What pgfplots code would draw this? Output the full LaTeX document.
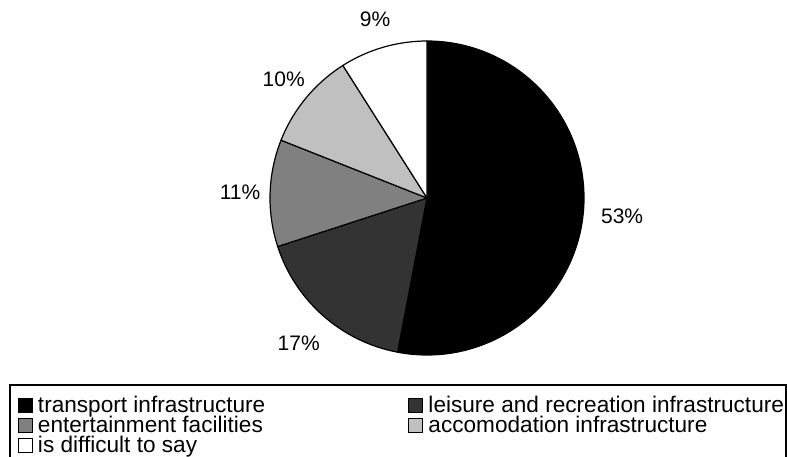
\documentclass[border=0pt]{standalone}
\usepackage{fontspec}
\setmainfont{Liberation Sans}
\usepackage{pgfplots}
\pgfplotsset{compat=1.18}

\definecolor{leisure}{HTML}{333333}
\definecolor{entert}{HTML}{808080}
\definecolor{accom}{HTML}{C0C0C0}

% pie centre (427,258), radius 157 -- one axis unit is one point
% \slice{start in %}{share in %}{colour}
\newcommand{\slice}[3]{%
  \filldraw[fill=#3, draw=black, line width=1.2pt, line join=round]
    (axis cs:427,258) -- ++({90-3.6*#1}:157pt)
    arc[start angle={90-3.6*#1}, end angle={90-3.6*(#1+#2)}, radius=157pt] -- cycle;}
% \slicelabel{start}{share}{distance from centre}
\newcommand{\slicelabel}[3]{%
  \path (axis cs:427,258) ++({90-3.6*(#1+#2/2)}:#3pt)
    node[inner sep=0pt] {\fontsize{21}{25}\selectfont #2\%};}

\pgfplotsset{sq/.style={legend image code/.code={%
  \draw[line width=1pt, fill=#1] (0pt,-7pt) rectangle (14pt,7pt);}}}

\begin{document}
\begin{tikzpicture}
\path[use as bounding box] (0,0) rectangle (787pt,456pt);
\begin{axis}[
    hide axis, scale only axis,
    width=787pt, height=456pt,
    xmin=0, xmax=787, ymin=0, ymax=456,
    clip=false,
    legend columns=2,
    legend cell align=left,
    legend style={draw=none, fill=none, inner sep=0pt, outer sep=0pt,
      at={(axis cs:17.5,61)}, anchor=north west, row sep=0pt,
      font=\fontsize{22.6}{24}\selectfont,
      nodes={inner sep=0pt, text height=17pt, text depth=3pt},
      /tikz/every odd column/.append style={column sep=5.5pt}},
  ]
  \slice{0}{53}{black}
  \slice{53}{17}{leisure}
  \slice{70}{11}{entert}
  \slice{81}{10}{accom}
  \slice{91}{9}{white}
  \slicelabel{0}{53}{196}
  \slicelabel{53}{17}{194}
  \slicelabel{70}{11}{187}
  \slicelabel{81}{10}{186}
  \slicelabel{91}{9}{186}

  \addlegendimage{sq=black}
  \addlegendentry{\makebox[370pt][l]{transport infrastructure}}
  \addlegendimage{sq=leisure}
  \addlegendentry{leisure and recreation infrastructure}
  \addlegendimage{sq=entert}
  \addlegendentry{\makebox[370pt][l]{entertainment facilities}}
  \addlegendimage{sq=accom}
  \addlegendentry{accomodation infrastructure}
  \addlegendimage{sq=white}
  \addlegendentry{\makebox[370pt][l]{is difficult to say}}

  \draw[line width=1.3pt] (axis cs:10,-30) rectangle (axis cs:786,71);
\end{axis}
\end{tikzpicture}
\end{document}
